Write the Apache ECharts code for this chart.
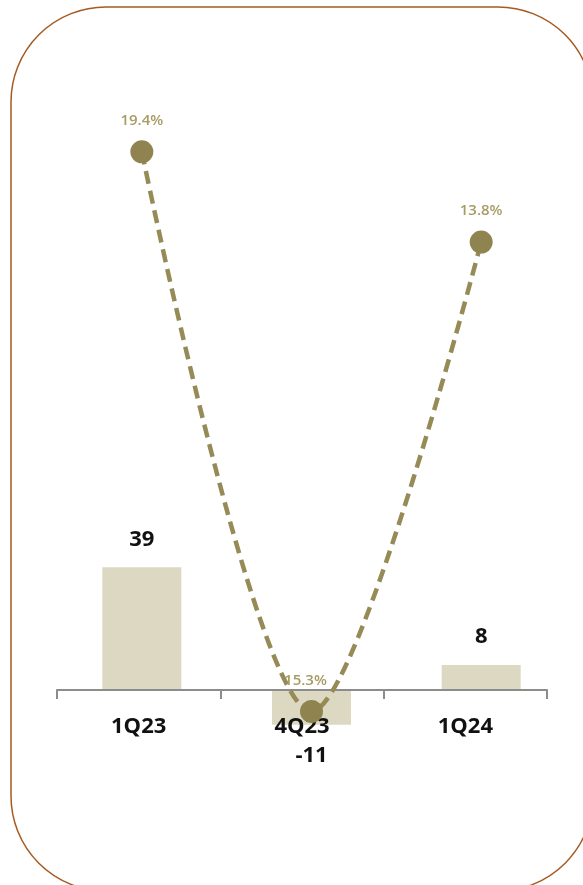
<!DOCTYPE html>
<html>
<head>
<meta charset="utf-8">
<script src="https://cdn.jsdelivr.net/npm/echarts@6/dist/echarts.min.js"></script>
<style>
  html, body { margin: 0; padding: 0; background: #fff; }
  #chart { width: 583px; height: 885px; }
</style>
</head>
<body>
<div id="chart"></div>
<script>
// data
const categories = ['1Q23', '4Q23', '1Q24'];
const barValues = [39, -11, 8];
// the middle point sits below the axis, so it is plotted as a negative margin
const marginValues = [19.4, -15.3, 13.8];

const chart = echarts.init(document.getElementById('chart'));

const barData = barValues.map(v => ({
  value: v,
  label: v < 0 ? { position: 'bottom', distance: 20 } : {}
}));

const lineData = marginValues.map((v, i) => ({
  value: v,
  label: i === 1 ? { offset: [-6, 0] } : {}
}));

const option = {
  backgroundColor: '#ffffff',
  animation: false,
  graphic: [{
    type: 'rect',
    shape: { x: 11, y: 7, width: 582, height: 884, r: 95 },
    style: { fill: 'none', stroke: '#a65a20', lineWidth: 1.5 },
    z: -10
  }],
  grid: [
    // grid for the visible category axis, its bottom edge is the zero line
    { left: 57, right: 36, top: 60, bottom: 195 },
    // grid for bars and line
    { left: 57, right: 17, top: 60, bottom: 94 }
  ],
  xAxis: [
    {
      type: 'category',
      gridIndex: 0,
      data: categories,
      z: 3,
      axisLine: { onZero: false, lineStyle: { color: '#8c8c8c', width: 2 } },
      axisTick: { show: true, length: 9, lineStyle: { color: '#8c8c8c', width: 2 } },
      axisLabel: {
        margin: 26,
        color: '#111',
        fontSize: 22,
        fontWeight: 'bold',
        fontFamily: 'Open Sans'
      }
    },
    {
      type: 'category',
      gridIndex: 1,
      data: categories,
      show: false
    }
  ],
  yAxis: [
    { type: 'value', gridIndex: 0, min: 0, max: 200, show: false },
    { type: 'value', gridIndex: 1, min: -32, max: 200, show: false },
    { type: 'value', gridIndex: 1, min: -20.23, max: 25.09, show: false }
  ],
  series: [
    {
      type: 'bar',
      xAxisIndex: 1,
      yAxisIndex: 1,
      data: barData,
      barWidth: 79,
      z: 2,
      itemStyle: { color: '#ddd8c2' },
      label: {
        show: true,
        position: 'top',
        distance: 17,
        color: '#111',
        fontSize: 22,
        fontWeight: 'bold',
        fontFamily: 'Open Sans'
      }
    },
    {
      type: 'line',
      xAxisIndex: 1,
      yAxisIndex: 2,
      data: lineData,
      smooth: 0.3,
      z: 5,
      symbol: 'circle',
      symbolSize: 23,
      itemStyle: { color: '#8f8450' },
      lineStyle: { color: '#968a56', width: 4.5, type: [13, 7] },
      label: {
        show: true,
        position: 'top',
        distance: 12,
        color: '#a89c65',
        fontSize: 15,
        fontWeight: 600,
        fontFamily: 'Open Sans',
        formatter: p => Math.abs(p.value).toFixed(1) + '%'
      }
    }
  ]
};

chart.setOption(option);
</script>
</body>
</html>
